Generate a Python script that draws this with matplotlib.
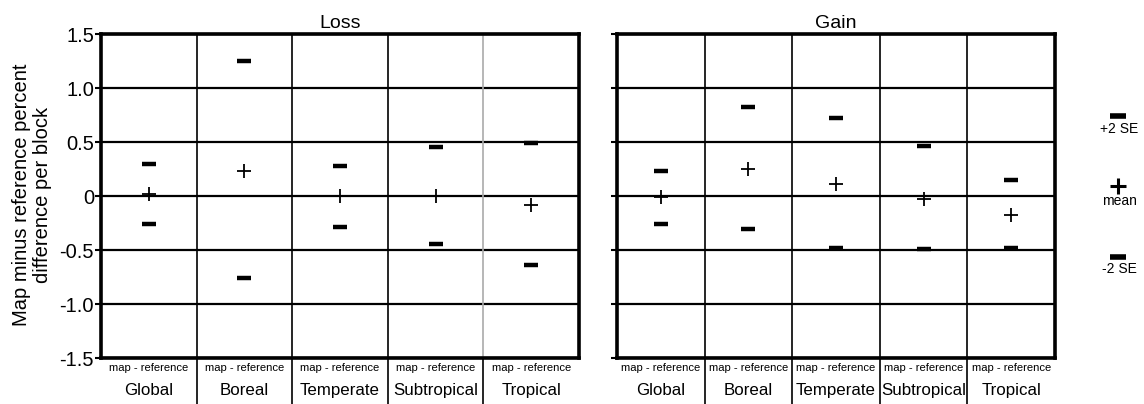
import matplotlib
matplotlib.use("Agg")
import matplotlib.pyplot as plt
import numpy as np

plt.rcParams['font.family'] = ['Liberation Sans', 'DejaVu Sans']

categories = ["Global", "Boreal", "Temperate", "Subtropical", "Tropical"]
sub_label = "map - reference"
yticks = [1.5, 1.0, 0.5, 0, -0.5, -1.0, -1.5]
ytick_labels = ["1.5", "1.0", "0.5", "0", "-0.5", "-1.0", "-1.5"]

loss_upper = [0.30, 1.25, 0.28, 0.45, 0.49]
loss_mean = [0.02, 0.23, 0.00, 0.00, -0.08]
loss_lower = [-0.26, -0.76, -0.29, -0.44, -0.64]

gain_upper = [0.23, 0.82, 0.72, 0.46, 0.15]
gain_mean = [-0.01, 0.25, 0.11, -0.03, -0.18]
gain_lower = [-0.26, -0.31, -0.48, -0.49, -0.48]

W, H = 1144, 404
fig = plt.figure(figsize=(W / 100, H / 100), dpi=100)

ax_top = 1 - 34 / H
ax_bot = 1 - 358 / H
axL = fig.add_axes([101 / W, ax_bot, (579 - 101) / W, ax_top - ax_bot])
axR = fig.add_axes([617 / W, ax_bot, (1055 - 617) / W, ax_top - ax_bot])

below = -(H - 358) / (358 - 34)

def draw(ax, upper, mean, lower, title, show_labels, gray_last=False):
    n = len(categories)
    x = np.arange(n) + 0.5
    ax.set_xlim(0, n)
    ax.set_ylim(-1.5, 1.5)
    for yv in yticks:
        ax.axhline(yv, color='black', lw=1.6, zorder=1)
    for i in range(1, n):
        c = '#aaaaaa' if (gray_last and i == n - 1) else 'black'
        ax.axvline(i, color=c, lw=1.2, zorder=1)
        ax.plot([i, i], [0, below], transform=ax.get_xaxis_transform(),
                color='black', lw=1.2, clip_on=False)
    ax.plot(x, upper, ls='none', marker='_', ms=9.5, mew=3.2, color='black', zorder=3)
    ax.plot(x, lower, ls='none', marker='_', ms=9.5, mew=3.2, color='black', zorder=3)
    ax.plot(x, mean, ls='none', marker='+', ms=10.5, mew=1.3, color='black', zorder=3)
    for s in ax.spines.values():
        s.set_linewidth(2.6)
    ax.set_xticks([])
    ax.set_yticks(yticks)
    ax.tick_params(axis='y', length=4, width=1.5, direction='out', pad=1)
    if show_labels:
        ax.set_yticklabels(ytick_labels, fontsize=14.5)
    else:
        ax.set_yticklabels([])
    ax.set_title(title, fontsize=14, pad=4)
    for i, cat in enumerate(categories):
        ax.text(x[i], -0.031, sub_label, transform=ax.get_xaxis_transform(),
                ha='center', va='center', fontsize=8.1)
        ax.text(x[i], -0.099, cat, transform=ax.get_xaxis_transform(),
                ha='center', va='center', fontsize=12.2)

draw(axL, loss_upper, loss_mean, loss_lower, "Loss", True, gray_last=True)
draw(axR, gain_upper, gain_mean, gain_lower, "Gain", False)

fig.text(32 / W, 1 - 195 / H, "Map minus reference percent\ndifference per block",
         rotation=90, ha='center', va='center', fontsize=14.5, multialignment='center',
         linespacing=1.1)

# legend on the right
lx = 1118 / W
tx = 1119 / W
fig.lines.append(plt.Line2D([lx], [1 - 116 / H], transform=fig.transFigure,
                            marker='_', ms=12, mew=4, color='black', ls='none'))
fig.text(tx, 1 - 129 / H, "+2 SE", ha='center', va='center', fontsize=10)
fig.lines.append(plt.Line2D([lx], [1 - 186 / H], transform=fig.transFigure,
                            marker='+', ms=12, mew=2.2, color='black', ls='none'))
fig.text(tx, 1 - 201 / H, "mean", ha='center', va='center', fontsize=10)
fig.lines.append(plt.Line2D([lx], [1 - 257 / H], transform=fig.transFigure,
                            marker='_', ms=12, mew=4, color='black', ls='none'))
fig.text(tx, 1 - 269 / H, "-2 SE", ha='center', va='center', fontsize=10)

fig.savefig("out.png", dpi=100)
